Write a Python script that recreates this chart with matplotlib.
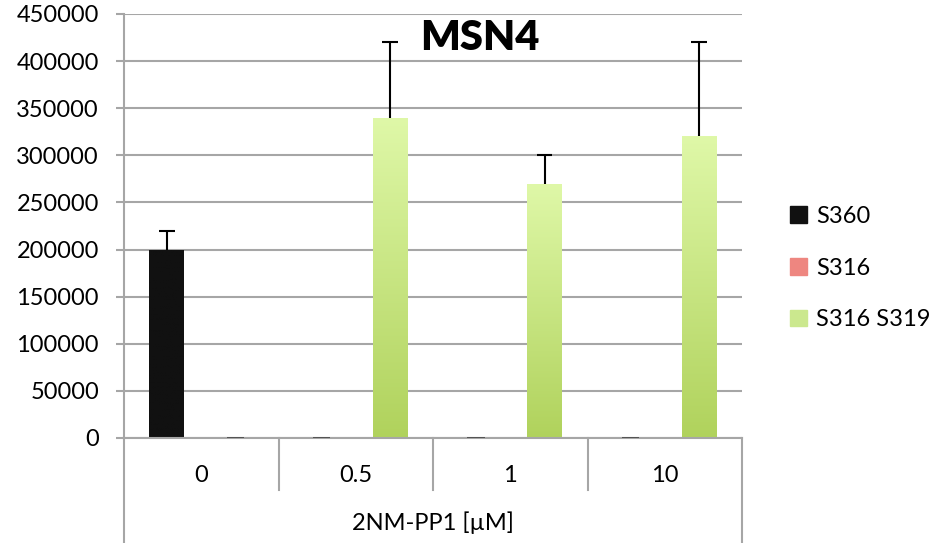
import matplotlib
matplotlib.use("Agg")
import matplotlib.pyplot as plt
import numpy as np
from matplotlib.colors import LinearSegmentedColormap

plt.rcParams['font.family'] = ['Lato', 'DejaVu Sans']

categories = ['0', '0.5', '1', '10']
series = ['S360', 'S316', 'S316 S319']
s360 = [200000, 0, 0, 0]
s316 = [0, 0, 0, 0]
s316_s319 = [0, 340000, 270000, 320000]
s360_err = [20000, 0, 0, 0]
s316_err = [0, 0, 0, 0]
s316_s319_err = [0, 80000, 30000, 100000]
axis_title = '2NM-PP1 [µM]'
chart_title = 'MSN4'

values = [s360, s316, s316_s319]
errors = [s360_err, s316_err, s316_s319_err]
grads = [('#111111', '#111111'), ('#f6aaa2', '#e0605a'), ('#dff8a8', '#b0d25c')]
show_zero = [True, False, True]

W, H = 944, 543
fig = plt.figure(figsize=(W / 100, H / 100), dpi=100)
ax = fig.add_axes([124 / W, (H - 438) / H, (742 - 124) / W, (438 - 14) / H])

x = np.arange(len(categories))
bw = 0.226
step = 0.223
grid_c = '#a6a6a6'
fs = 17

ax.set_xlim(-0.5, len(categories) - 0.5)
ax.set_ylim(0, 450000)
ax.set_yticks(np.arange(0, 450001, 50000))
ax.yaxis.grid(True, color=grid_c, linewidth=1.5)
ax.set_axisbelow(True)
for s in ['top', 'right', 'bottom']:
    ax.spines[s].set_visible(False)
ax.spines['left'].set_color(grid_c)
ax.spines['left'].set_linewidth(1.5)
ax.tick_params(axis='y', length=6, width=1.5, color=grid_c, labelsize=fs, pad=12)
ax.set_xticks([])

cap = 0.05
for i, (vals, errs) in enumerate(zip(values, errors)):
    pos = x + (i - 1) * step
    bars = ax.bar(pos, vals, bw, color=grads[i][1], edgecolor='none', zorder=2)
    cmap = LinearSegmentedColormap.from_list('g%d' % i, [grads[i][1], grads[i][0]])
    for b, v in zip(bars, vals):
        if v > 0:
            im = ax.imshow(np.linspace(0, 1, 256).reshape(-1, 1), cmap=cmap, origin='lower',
                           extent=[b.get_x(), b.get_x() + bw, 0, v], aspect='auto', zorder=2)
            im.set_clip_path(b)
            b.set_facecolor('none')
    for p, v, e in zip(pos, vals, errs):
        if v == 0 and show_zero[i]:
            ax.hlines(0, p - bw / 4, p + bw / 4, color='#444444', linewidth=1.2, zorder=3)
        if e > 0:
            ax.vlines(p, v, v + e, color='black', linewidth=1.5, zorder=4)
            ax.hlines(v + e, p - cap, p + cap, color='black', linewidth=1.5, zorder=4)

ax.set_xlim(-0.5, len(categories) - 0.5)

# category axis below the plot
tr = ax.get_xaxis_transform()
ax.plot([-0.5, len(categories) - 0.5], [0, 0], color=grid_c, linewidth=1.5, transform=tr, clip_on=False)
bottom_y = -(543 - 438) / (438 - 14)
sep_y = -(490 - 438) / (438 - 14)
for k in range(len(categories) + 1):
    xe = k - 0.5
    y1 = bottom_y if k in (0, len(categories)) else sep_y
    ax.plot([xe, xe], [0, y1], color=grid_c, linewidth=1.5, transform=tr, clip_on=False)
for k, c in enumerate(categories):
    ax.text(k, -(475 - 438) / (438 - 14), c, transform=tr, ha='center', va='center', fontsize=fs)
ax.text((len(categories) - 1) / 2, -(523 - 438) / (438 - 14), axis_title, transform=tr,
        ha='center', va='center', fontsize=fs)

fig.text(480 / W, 1 - 38 / H, chart_title, ha='center', va='center', fontsize=30, fontweight='heavy')

handles = [plt.Rectangle((0, 0), 1, 1, color=c) for c in ['#111111', '#ee8680', '#cbe88e']]
fig.legend(handles, series, loc='center left', bbox_to_anchor=(769 / W, 1 - 268 / H), frameon=False,
           fontsize=fs, handlelength=0.7, handleheight=0.7, handletextpad=0.4, labelspacing=1.3)

fig.savefig('out.png', dpi=100)
